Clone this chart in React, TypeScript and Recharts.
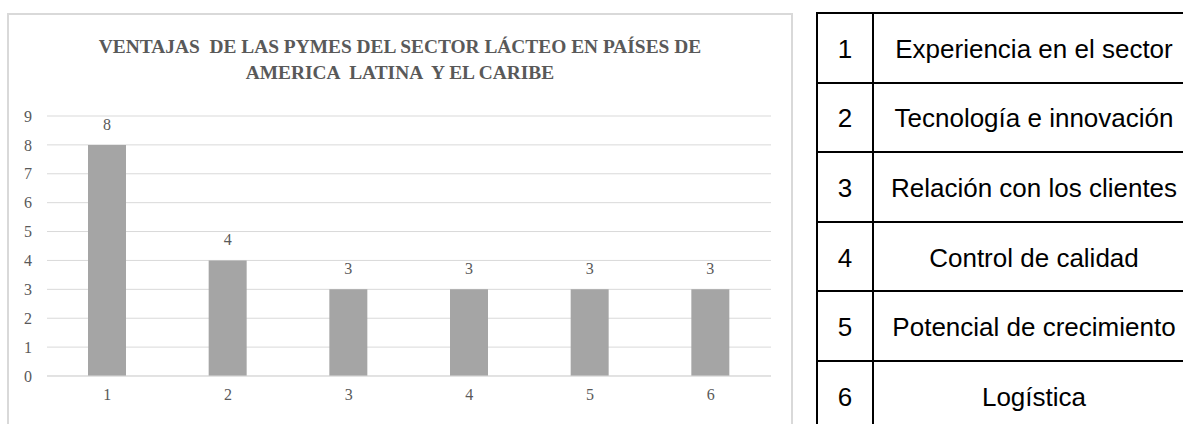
import { BarChart, Bar, XAxis, YAxis, CartesianGrid, LabelList } from "recharts";

// Chart values
const categories = ["1", "2", "3", "4", "5", "6"];
const values = [8, 4, 3, 3, 3, 3];
const yTicks = [0, 1, 2, 3, 4, 5, 6, 7, 8, 9];

// Legend table text
const descriptions = [
  "Experiencia en el sector",
  "Tecnología e innovación",
  "Relación con los clientes",
  "Control de calidad",
  "Potencial de crecimiento",
  "Logística",
];

const titleLines = [
  "VENTAJAS  DE LAS PYMES DEL SECTOR LÁCTEO EN PAÍSES DE",
  "AMERICA  LATINA  Y EL CARIBE",
];

const data = categories.map((cat, i) => ({ cat, value: values[i] }));

const serif = "'Liberation Serif', 'Times New Roman', serif";
const sans = "'Liberation Sans', Arial, sans-serif";
const gray = "#595959";

const App = () => {
  return (
    <div
      style={{
        position: "absolute",
        left: 0,
        top: 0,
        width: 1183,
        height: 424,
        overflow: "hidden",
        background: "#fff",
      }}
    >
      {/* chart box */}
      <div
        style={{
          position: "absolute",
          left: 7,
          top: 13,
          width: 786,
          height: 420,
          border: "2px solid #d9d9d9",
          boxSizing: "border-box",
        }}
      >
        <div
          style={{
            position: "absolute",
            left: 0,
            top: 19,
            width: 782,
            textAlign: "center",
            fontFamily: serif,
            fontWeight: "bold",
            fontSize: 19.4,
            lineHeight: "26px",
            color: gray,
            whiteSpace: "pre",
          }}
        >
          {titleLines.map((t) => (
            <div key={t}>{t}</div>
          ))}
        </div>
        <BarChart
          width={782}
          height={416}
          data={data}
          margin={{ top: 101, right: 20, left: 0, bottom: 15 }}
        >
          <CartesianGrid vertical={false} stroke="#d9d9d9" />
          <XAxis
            dataKey="cat"
            axisLine={{ stroke: "#d9d9d9" }}
            tickLine={false}
            tickSize={0}
            tickMargin={13}
            height={40}
            tick={{ fill: gray, fontFamily: serif, fontSize: 16 }}
          />
          <YAxis
            domain={[0, 9]}
            ticks={yTicks}
            width={38}
            axisLine={false}
            tickLine={false}
            tickSize={0}
            tickMargin={15}
            tick={{ fill: gray, fontFamily: serif, fontSize: 16 }}
          />
          <Bar dataKey="value" fill="#a5a5a5" barSize={38} isAnimationActive={false}>
            <LabelList
              dataKey="value"
              position="top"
              offset={15}
              fill={gray}
              fontFamily={serif}
              fontSize={16}
            />
          </Bar>
        </BarChart>
      </div>

      {/* legend table */}
      <div
        style={{
          position: "absolute",
          left: 816,
          top: 12,
          width: 380,
          borderTop: "2px solid #000",
          borderLeft: "2px solid #000",
          borderRight: "2px solid #000",
          fontFamily: sans,
          fontSize: 26,
          color: "#000",
        }}
      >
        {descriptions.map((d, i) => (
          <div
            key={d}
            style={{
              display: "flex",
              height: 67.6,
              borderBottom: "2px solid #000",
            }}
          >
            <div
              style={{
                width: 54,
                borderRight: "2px solid #000",
                display: "flex",
                alignItems: "center",
                justifyContent: "center",
                paddingTop: 3,
              }}
            >
              {categories[i]}
            </div>
            <div
              style={{
                width: 320,
                display: "flex",
                alignItems: "center",
                justifyContent: "center",
                paddingTop: 3,
                whiteSpace: "nowrap",
              }}
            >
              {d}
            </div>
          </div>
        ))}
      </div>
    </div>
  );
};

export default App;
